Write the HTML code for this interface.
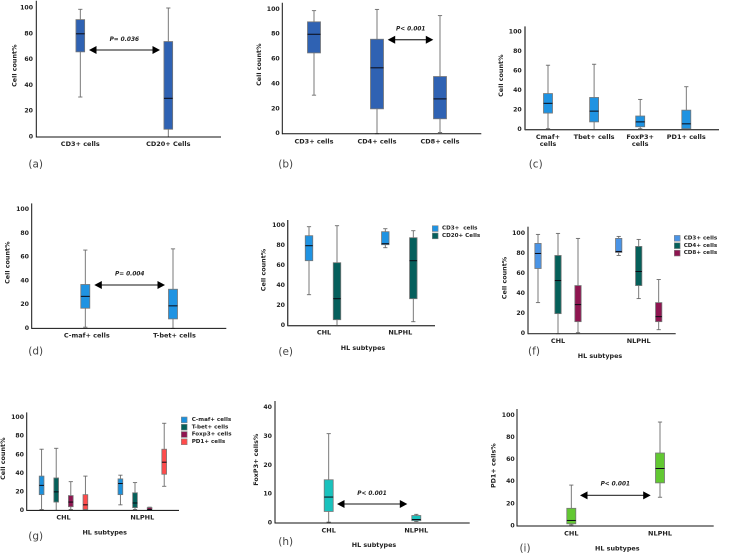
<!DOCTYPE html>
<html lang="en">
<head>
<meta charset="utf-8">
<title>Cell count box plots</title>
<style>
html,body{margin:0;padding:0;background:#fff;}
body{width:733px;height:555px;overflow:hidden;}
svg{display:block;filter:blur(0.25px);}
text{font-family:"DejaVu Sans","Liberation Sans",sans-serif;fill:#222;dominant-baseline:central;white-space:pre;}
.tick{font-size:6.2px;font-weight:bold;text-anchor:end;}
.cat{font-size:6.5px;font-weight:bold;text-anchor:middle;}
.ytitle{font-size:6.4px;font-weight:bold;text-anchor:middle;}
.xtitle{font-size:6.4px;font-weight:bold;text-anchor:middle;}
.pval{font-size:5.8px;font-weight:bold;font-style:italic;text-anchor:middle;}
.plabel{font-size:10.5px;fill:#444;text-anchor:middle;}
.leg{font-size:5.6px;font-weight:bold;}
</style>
</head>
<body>
<svg id="figure" xmlns="http://www.w3.org/2000/svg" width="733" height="555" viewBox="0 -0.7 733 555"></svg>
<script>
/* ---------- shared tick labels ---------- */
const percentTicks = [0, 20, 40, 60, 80, 100];
const foxp3Ticks = [0, 10, 20, 30, 40];

/* ---------- panel a ---------- */
const aCategories = ["CD3+ cells", "CD20+ Cells"];
const aLow = [31, 0];
const aQ1 = [66, 6];
const aMedian = [80, 30];
const aQ3 = [91, 74];
const aHigh = [99, 100];

/* ---------- panel b ---------- */
const bCategories = ["CD3+ cells", "CD4+ cells", "CD8+ cells"];
const bLow = [31, 0, 1];
const bQ1 = [65, 20, 12];
const bMedian = [80, 53, 28];
const bQ3 = [90, 76, 46];
const bHigh = [99, 100, 95];

/* ---------- panel c ---------- */
const cCategories = ["Cmaf+\ncells", "Tbet+ cells", "FoxP3+\ncells", "PD1+ cells"];
const cLow = [1, 0, 1, 0];
const cQ1 = [17, 8, 3, 1];
const cMedian = [27, 19, 8, 6];
const cQ3 = [37, 33, 14, 20];
const cHigh = [66, 67, 31, 44];

/* ---------- panel d ---------- */
const dCategories = ["C-maf+ cells", "T-bet+ cells"];
const dLow = [1, 0];
const dQ1 = [17, 8];
const dMedian = [27, 19];
const dQ3 = [37, 33];
const dHigh = [66, 67];

/* ---------- panel e (rows: subtype, columns: series) ---------- */
const eCategories = ["CHL", "NLPHL"];
const eSeries = ["CD3+  cells", "CD20+ Cells"];
const eLow = [[31, 0], [78, 4]];
const eQ1 = [[65, 6], [81, 27]];
const eMedian = [[80, 27], [82, 65]];
const eQ3 = [[90, 63], [94, 88]];
const eHigh = [[99, 100], [97, 95]];

/* ---------- panel f ---------- */
const fCategories = ["CHL", "NLPHL"];
const fSeries = ["CD3+ cells", "CD4+ cells", "CD8+ cells"];
const fLow = [[31, 0, 1], [78, 35, 4]];
const fQ1 = [[65, 20, 12], [81, 48, 12]];
const fMedian = [[80, 53, 29], [82, 62, 17]];
const fQ3 = [[90, 78, 48], [95, 87, 31]];
const fHigh = [[99, 100, 95], [97, 94, 54]];

/* ---------- panel g ---------- */
const gCategories = ["CHL", "NLPHL"];
const gSeries = ["C-maf+ cells", "T-bet+ cells", "Foxp3+ cells", "PD1+ cells"];
const gLow = [[1, 0, 1, 1], [6, 1, 0, 26]];
const gQ1 = [[17, 9, 4, 1], [17, 3, 0.5, 39]];
const gMedian = [[27, 20, 9, 6], [29, 8, 1, 52]];
const gQ3 = [[37, 35, 16, 17], [34, 19, 3, 66]];
const gHigh = [[66, 67, 31, 37], [38, 30, 3.5, 94]];

/* ---------- panel h ---------- */
const hCategories = ["CHL", "NLPHL"];
const hLow = [0.3, 0.5];
const hQ1 = [4, 0.8];
const hMedian = [9, 1.2];
const hQ3 = [15, 2.6];
const hHigh = [31, 3];

/* ---------- panel i ---------- */
const iCategories = ["CHL", "NLPHL"];
const iLow = [1, 26];
const iQ1 = [2, 39];
const iMedian = [5, 52];
const iQ3 = [16, 66];
const iHigh = [37, 94];

const SVG_NS = "http://www.w3.org/2000/svg";
const figure = document.getElementById("figure");

function make(parent, tag, attrs, content) {
  const el = document.createElementNS(SVG_NS, tag);
  for (const k in attrs) el.setAttribute(k, attrs[k]);
  if (content !== undefined) el.textContent = content;
  parent.appendChild(el);
  return el;
}
function slug(s) {
  return String(s).toLowerCase().replace(/[^a-z0-9]+/g, "-").replace(/^-|-$/g, "");
}
function asRows(a) {
  return a.map(function (v) { return Array.isArray(v) ? v : [v]; });
}

function drawPanel(p) {
  const L = p.layout;
  const g = make(figure, "g", {});
  
  

  /* axis functions */
  const yScale = function (v) { return L.y0 + (L.yFull - L.y0) * v / p.ticks[p.ticks.length - 1]; };
  const catCenter = function (i) { return L.first + i * L.step; };
  const boxCenter = function (i, j, n) { return catCenter(i) + (j - (n - 1) / 2) * (L.dodge || 0); };

  /* tick labels */
  p.ticks.forEach(function (t) {
    const el = make(g, "text", { class: "tick", x: L.tickRight, y: yScale(t) }, t);
    
    
  });

  /* y axis title */
  const yt = make(g, "text", {
    class: "ytitle",
    transform: "translate(" + L.yTitleX + "," + L.yTitleY + ") rotate(-90)"
  }, p.yTitle);
  
  

  /* boxes */
  const low = asRows(p.low), q1 = asRows(p.q1), med = asRows(p.median), q3 = asRows(p.q3), high = asRows(p.high);
  low.forEach(function (row, i) {
    row.forEach(function (_, j) {
      const cx = boxCenter(i, j, row.length);
      const w = L.boxW;
      const seriesName = p.series ? slug(p.series[j]) : slug(p.categories[i]);
      const name = "box-" + slug(p.categories[i]) + (p.series ? "-" + seriesName : "");
      const box = make(g, "g", {});
      
      

      const whisk = make(box, "line", { x1: cx, x2: cx, y1: yScale(low[i][j]), y2: yScale(high[i][j]), stroke: "#6b6b6b", "stroke-width": 0.9 });
      
      

      const capHigh = make(box, "line", { x1: cx - 2.1, x2: cx + 2.1, y1: yScale(high[i][j]), y2: yScale(high[i][j]), stroke: "#6b6b6b", "stroke-width": 0.9 });
      
      

      const capLow = make(box, "line", { x1: cx - 2.1, x2: cx + 2.1, y1: yScale(low[i][j]), y2: yScale(low[i][j]), stroke: "#6b6b6b", "stroke-width": 0.9 });
      
      

      const rect = make(box, "rect", {
        x: cx - w / 2, width: w,
        y: yScale(q3[i][j]), height: yScale(q1[i][j]) - yScale(q3[i][j]),
        fill: p.colors[j], stroke: "#777", "stroke-width": 0.8
      });
      
      

      const m = make(box, "line", { x1: cx - w / 2, x2: cx + w / 2, y1: yScale(med[i][j]), y2: yScale(med[i][j]), stroke: "#0a0a14", "stroke-width": 1 });
      
      
    });
  });

  /* axes */
  const ax = make(g, "line", { x1: L.axisX, x2: L.axisX, y1: L.axisTop, y2: L.y0 + 0.5, stroke: L.axisColor || "#111", "stroke-width": L.axisW || 1 });
  
  
  const bx = make(g, "line", { x1: L.axisX, x2: L.axisRight, y1: L.y0, y2: L.y0, stroke: L.axisColor || "#111", "stroke-width": L.axisW || 1 });
  
  

  /* category labels */
  p.categories.forEach(function (c, i) {
    const t = make(g, "text", { class: "cat", x: catCenter(i) + (L.catShift || 0), y: L.catY });
    
    
    c.split("\n").forEach(function (line, k) {
      make(t, "tspan", { x: catCenter(i) + (L.catShift || 0), y: L.catY + k * 7 }, line);
    });
  });

  /* x title */
  if (p.xTitle) {
    const xt = make(g, "text", { class: "xtitle", x: L.xTitleX, y: L.xTitleY }, p.xTitle);
    
    
  }

  /* significance arrow */
  if (p.pText) {
    const ay = L.arrowY;
    const arrow = make(g, "g", {});
    
    
    make(arrow, "line", { x1: L.arrowX1 + 3, x2: L.arrowX2 - 3, y1: ay, y2: ay, stroke: "#444", "stroke-width": 1.3 });
    make(arrow, "polygon", { points: [L.arrowX1, ay, L.arrowX1 + 7.5, ay - 4, L.arrowX1 + 7.5, ay + 4].join(" "), fill: "#000" });
    make(arrow, "polygon", { points: [L.arrowX2, ay, L.arrowX2 - 7.5, ay - 4, L.arrowX2 - 7.5, ay + 4].join(" "), fill: "#000" });
    const pv = make(g, "text", { class: "pval", x: (L.pX !== undefined ? L.pX : (L.arrowX1 + L.arrowX2) / 2), y: L.pY }, p.pText);
    
    
  }

  /* legend */
  if (p.series) {
    const leg = make(g, "g", {});
    
    
    p.series.forEach(function (s, j) {
      const ly = L.legY + j * L.legStep;
      const entry = make(leg, "g", {});
      
      
      const sw = make(entry, "rect", { x: L.legX, y: ly - 3, width: 5.8, height: 5.8, fill: p.colors[j], stroke: "#888", "stroke-width": 0.6 });
      
      
      const tx = make(entry, "text", { class: "leg", x: L.legTextX, y: ly }, s);
      
      
    });
  }

  /* panel letter */
  const pl = make(g, "text", { class: "plabel", x: L.labelX, y: L.labelY }, "(" + p.id + ")");
  
  
}

drawPanel({
  id: "a", categories: aCategories, low: aLow, q1: aQ1, median: aMedian, q3: aQ3, high: aHigh,
  ticks: percentTicks, yTitle: "Cell count%", pText: "P= 0.036", colors: ["#2f62b3"],
  layout: { axisX: 36.3, axisRight: 221, axisTop: 0, y0: 136.3, yFull: 7.3, tickRight: 33, yTitleX: 14.3, yTitleY: 65,
    first: 80.3, step: 88, boxW: 8.7, catY: 143.3, arrowX1: 89, arrowX2: 160, arrowY: 49.3, pY: 39.3, pX: 124.3, labelX: 35.7, labelY: 163.7 }
});
drawPanel({
  id: "b", categories: bCategories, low: bLow, q1: bQ1, median: bMedian, q3: bQ3, high: bHigh,
  ticks: percentTicks, yTitle: "Cell count%", pText: "P< 0.001", colors: ["#2f62b3"],
  layout: { axisX: 282.3, axisRight: 481.3, axisTop: 2, y0: 133, yFull: 8.7, tickRight: 279.7, yTitleX: 259, yTitleY: 64,
    first: 314, step: 63, boxW: 13, catY: 140.7, arrowX1: 387.7, arrowX2: 433.3, arrowY: 39, pY: 29, pX: 410.7, labelX: 285.7, labelY: 163.7 }
});
drawPanel({
  id: "c", categories: cCategories, low: cLow, q1: cQ1, median: cMedian, q3: cQ3, high: cHigh,
  ticks: percentTicks, yTitle: "Cell count%", colors: ["#1f93e2"],
  layout: { axisX: 525, axisRight: 719, axisTop: 25.7, y0: 129, yFull: 31.3, axisColor: "#444", axisW: 1.4, tickRight: 521.7, yTitleX: 501, yTitleY: 75,
    first: 548, step: 46.1, boxW: 9, catY: 136.3, labelX: 535.7, labelY: 163.7 }
});
drawPanel({
  id: "d", categories: dCategories, low: dLow, q1: dQ1, median: dMedian, q3: dQ3, high: dHigh,
  ticks: percentTicks, yTitle: "Cell count%", pText: "P= 0.004", colors: ["#1f93e2"],
  layout: { axisX: 31.7, axisRight: 226.3, axisTop: 202.7, y0: 327.7, yFull: 209, tickRight: 29, yTitleX: 7.5, yTitleY: 262,
    first: 85.3, step: 87.7, boxW: 9, catY: 334.7, catShift: 1.5, arrowX1: 94.3, arrowX2: 165, arrowY: 284.3, pY: 273.7, pX: 129.7, labelX: 35.7, labelY: 351 }
});
drawPanel({
  id: "e", categories: eCategories, series: eSeries, low: eLow, q1: eQ1, median: eMedian, q3: eQ3, high: eHigh,
  ticks: percentTicks, yTitle: "Cell count%", xTitle: "HL subtypes", colors: ["#1f93e2", "#055f5c"],
  layout: { axisX: 287.7, axisRight: 435, axisTop: 219.3, y0: 325, yFull: 225, axisColor: "#444", axisW: 1.4, tickRight: 285, yTitleX: 263.7, yTitleY: 269.3,
    first: 323, step: 76.3, dodge: 28, boxW: 7.5, catY: 332, catShift: 1, xTitleX: 363, xTitleY: 347.3,
    legX: 432.3, legY: 228, legStep: 7.3, legTextX: 442, labelX: 285.7, labelY: 351.3 }
});
drawPanel({
  id: "f", categories: fCategories, series: fSeries, low: fLow, q1: fQ1, median: fMedian, q3: fQ3, high: fHigh,
  ticks: percentTicks, yTitle: "Cell count%", xTitle: "HL subtypes", colors: ["#4a94e6", "#05605a", "#8e1550"],
  layout: { axisX: 528, axisRight: 675.7, axisTop: 226, y0: 333, yFull: 232.7, axisColor: "#333", axisW: 1.2, tickRight: 525, yTitleX: 504.3, yTitleY: 277.3,
    first: 558, step: 80.7, dodge: 20, boxW: 6.3, catY: 340.3, xTitleX: 600, xTitleY: 355.3,
    legX: 674.3, legY: 237.7, legStep: 7.4, legTextX: 683.7, labelX: 534, labelY: 351 }
});
drawPanel({
  id: "g", categories: gCategories, series: gSeries, low: gLow, q1: gQ1, median: gMedian, q3: gQ3, high: gHigh,
  ticks: percentTicks, yTitle: "Cell count%", xTitle: "HL subtypes", colors: ["#1b90dc", "#05605a", "#8e1550", "#ff4b4b"],
  layout: { axisX: 26.7, axisRight: 179, axisTop: 411.7, y0: 509.7, yFull: 417, axisColor: "#222", axisW: 1.1, tickRight: 24, yTitleX: 3, yTitleY: 458,
    first: 63.5, step: 78.8, dodge: 14.6, boxW: 4.7, catY: 516.7, xTitleX: 104.7, xTitleY: 532,
    legX: 181.3, legY: 419.3, legStep: 7.3, legTextX: 191.7, labelX: 35.7, labelY: 536 }
});
drawPanel({
  id: "h", categories: hCategories, low: hLow, q1: hQ1, median: hMedian, q3: hQ3, high: hHigh,
  ticks: foxp3Ticks, yTitle: "FoxP3+ cells%", xTitle: "HL subtypes", pText: "P< 0.001", colors: ["#19c2bd"],
  layout: { axisX: 275, axisRight: 469.7, axisTop: 400.3, y0: 522.3, yFull: 407, tickRight: 272, yTitleX: 256, yTitleY: 459,
    first: 328.7, step: 87.6, boxW: 9, catY: 529.7, xTitleX: 374, xTitleY: 544.3,
    arrowX1: 337, arrowX2: 407.3, arrowY: 503.3, pY: 493.3, pX: 372, labelX: 285.7, labelY: 541.3 }
});
drawPanel({
  id: "i", categories: iCategories, low: iLow, q1: iQ1, median: iMedian, q3: iQ3, high: iHigh,
  ticks: percentTicks, yTitle: "PD1+ cells%", xTitle: "HL subtypes", pText: "P< 0.001", colors: ["#62c832"],
  layout: { axisX: 517, axisRight: 713.7, axisTop: 408.3, y0: 525.3, yFull: 414.7, tickRight: 514.7, yTitleX: 493.3, yTitleY: 465,
    first: 571.3, step: 88.7, boxW: 9, catY: 532.7, xTitleX: 617.3, xTitleY: 547.7,
    arrowX1: 580, arrowX2: 650.7, arrowY: 494.7, pY: 484, pX: 615.3, labelX: 525, labelY: 547.7 }
});
</script>
</body>
</html>
